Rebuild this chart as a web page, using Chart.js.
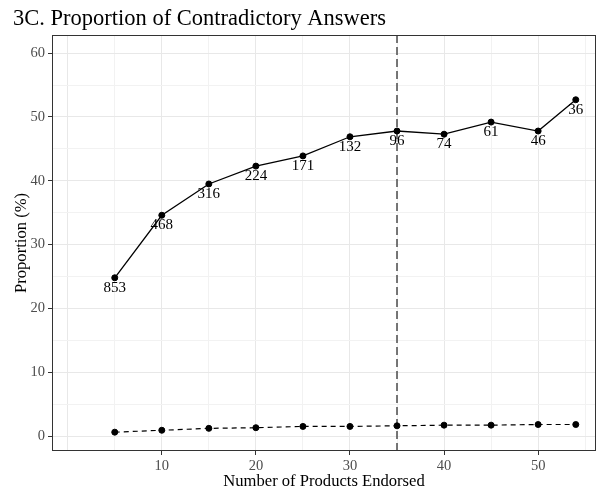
<!DOCTYPE html>
<html>
<head>
<meta charset="utf-8">
<script src="https://cdn.jsdelivr.net/npm/chart.js@4/dist/chart.umd.min.js"></script>
<style>
  body { margin: 0; background: #fff; }
  #wrap { width: 601px; height: 493px; }
</style>
</head>
<body>
<div id="wrap"><canvas id="chart"></canvas></div>
<script>
// data
const productsEndorsed = [5, 10, 15, 20, 25, 30, 35, 40, 45, 50, 54]
const contradictoryPct = [24.8, 34.6, 39.5, 42.3, 43.9, 46.9, 47.8, 47.3, 49.2, 47.8, 52.7]
const respondentCounts = ['853', '468', '316', '224', '171', '132', '96', '74', '61', '46', '36']
const baselinePct = [0.6, 0.9, 1.2, 1.3, 1.5, 1.5, 1.6, 1.7, 1.7, 1.8, 1.8]
const cutoffX = 35
const xTickLabels = [10, 20, 30, 40, 50]
const yTickLabels = [0, 10, 20, 30, 40, 50, 60]

const serif = '"Liberation Serif", "Times New Roman", serif'

function gridColor (ctx) {
  const v = ctx.tick.value
  if (Math.abs(v % 10) < 1e-6) return '#e8e8e8'
  return '#f2f2f2'
}

function tickMark (labels) {
  return function (ctx) {
    return labels.includes(Math.round(ctx.tick.value)) && Math.abs(ctx.tick.value - Math.round(ctx.tick.value)) < 1e-6 ? '#333333' : 'rgba(0,0,0,0)'
  }
}

const labelPlugin = {
  id: 'countLabels',
  afterDatasetsDraw (chart) {
    const ctx = chart.ctx
    const meta = chart.getDatasetMeta(0)
    ctx.save()
    ctx.font = '15px ' + serif
    ctx.fillStyle = '#000'
    ctx.textAlign = 'center'
    ctx.textBaseline = 'middle'
    meta.data.forEach((pt, i) => {
      ctx.fillText(respondentCounts[i], pt.x, pt.y + 10)
    })
    ctx.restore()
  }
}

const framePlugin = {
  id: 'frame',
  beforeDatasetsDraw (chart) {
    const ctx = chart.ctx
    const area = chart.chartArea
    const x = chart.scales.x.getPixelForValue(cutoffX)
    ctx.save()
    ctx.strokeStyle = '#555555'
    ctx.lineWidth = 1.6
    ctx.setLineDash([8, 4])
    ctx.beginPath()
    ctx.moveTo(x, area.top)
    ctx.lineTo(x, area.bottom)
    ctx.stroke()
    ctx.restore()
  },
  afterDraw (chart) {
    const ctx = chart.ctx
    const a = chart.chartArea
    ctx.save()
    ctx.strokeStyle = '#333333'
    ctx.lineWidth = 1
    ctx.strokeRect(a.left + 0.5, a.top + 0.5, a.right - a.left - 1, a.bottom - a.top - 1)
    ctx.restore()
  }
}

const xy = (xs, ys) => xs.map((x, i) => ({ x: x, y: ys[i] }))

new Chart(document.getElementById('chart').getContext('2d'), {
  type: 'line',
  data: {
    datasets: [{
      label: 'Contradictory',
      data: xy(productsEndorsed, contradictoryPct),
      borderColor: '#000',
      backgroundColor: '#000',
      borderWidth: 1.3,
      pointRadius: 3,
      pointBorderWidth: 1,
      tension: 0
    }, {
      label: 'Baseline',
      data: xy(productsEndorsed, baselinePct),
      borderColor: '#000',
      backgroundColor: '#000',
      borderWidth: 1.2,
      borderDash: [5, 4],
      pointRadius: 3,
      pointBorderWidth: 1,
      tension: 0
    }]
  },
  options: {
    responsive: true,
    maintainAspectRatio: false,
    animation: false,
    layout: { padding: { left: 13, right: 4, top: 0, bottom: 0 } },
    plugins: {
      legend: { display: false },
      tooltip: { enabled: false },
      title: {
        display: true,
        text: '3C. Proportion of Contradictory Answers',
        align: 'start',
        color: '#000',
        font: { family: serif, size: 22.5, weight: 'normal', lineHeight: 1.2 },
        padding: { top: 6, bottom: 2 }
      }
    },
    scales: {
      x: {
        type: 'linear',
        min: -1.67,
        max: 56.15,
        border: { display: false },
        grid: {
          color: gridColor,
          tickColor: tickMark(xTickLabels),
          tickLength: 4
        },
        ticks: {
          stepSize: 5,
          includeBounds: false,
          autoSkip: false,
          maxRotation: 0,
          padding: 2,
          color: '#4d4d4d',
          font: { family: serif, size: 14.5 },
          callback: (v) => xTickLabels.includes(v) ? String(v) : ''
        },
        title: {
          display: true,
          text: 'Number of Products Endorsed',
          color: '#000',
          font: { family: serif, size: 16.6 },
          padding: { top: 0, bottom: 1 }
        },
        afterFit (scale) { scale.height = 42 }
      },
      y: {
        type: 'linear',
        min: -2.35,
        max: 62.85,
        border: { display: false },
        grid: {
          color: gridColor,
          tickColor: tickMark(yTickLabels),
          tickLength: 4
        },
        ticks: {
          stepSize: 5,
          includeBounds: false,
          autoSkip: false,
          padding: 3,
          color: '#4d4d4d',
          font: { family: serif, size: 14.5 },
          callback: (v) => yTickLabels.includes(v) ? String(v) : ''
        },
        title: {
          display: true,
          text: 'Proportion (%)',
          color: '#000',
          font: { family: serif, size: 16.6, lineHeight: 1 },
          padding: { top: 0, bottom: 0 }
        },
        afterFit (scale) { scale.width = 39 }
      }
    }
  },
  plugins: [labelPlugin, framePlugin]
})
</script>
</body>
</html>
